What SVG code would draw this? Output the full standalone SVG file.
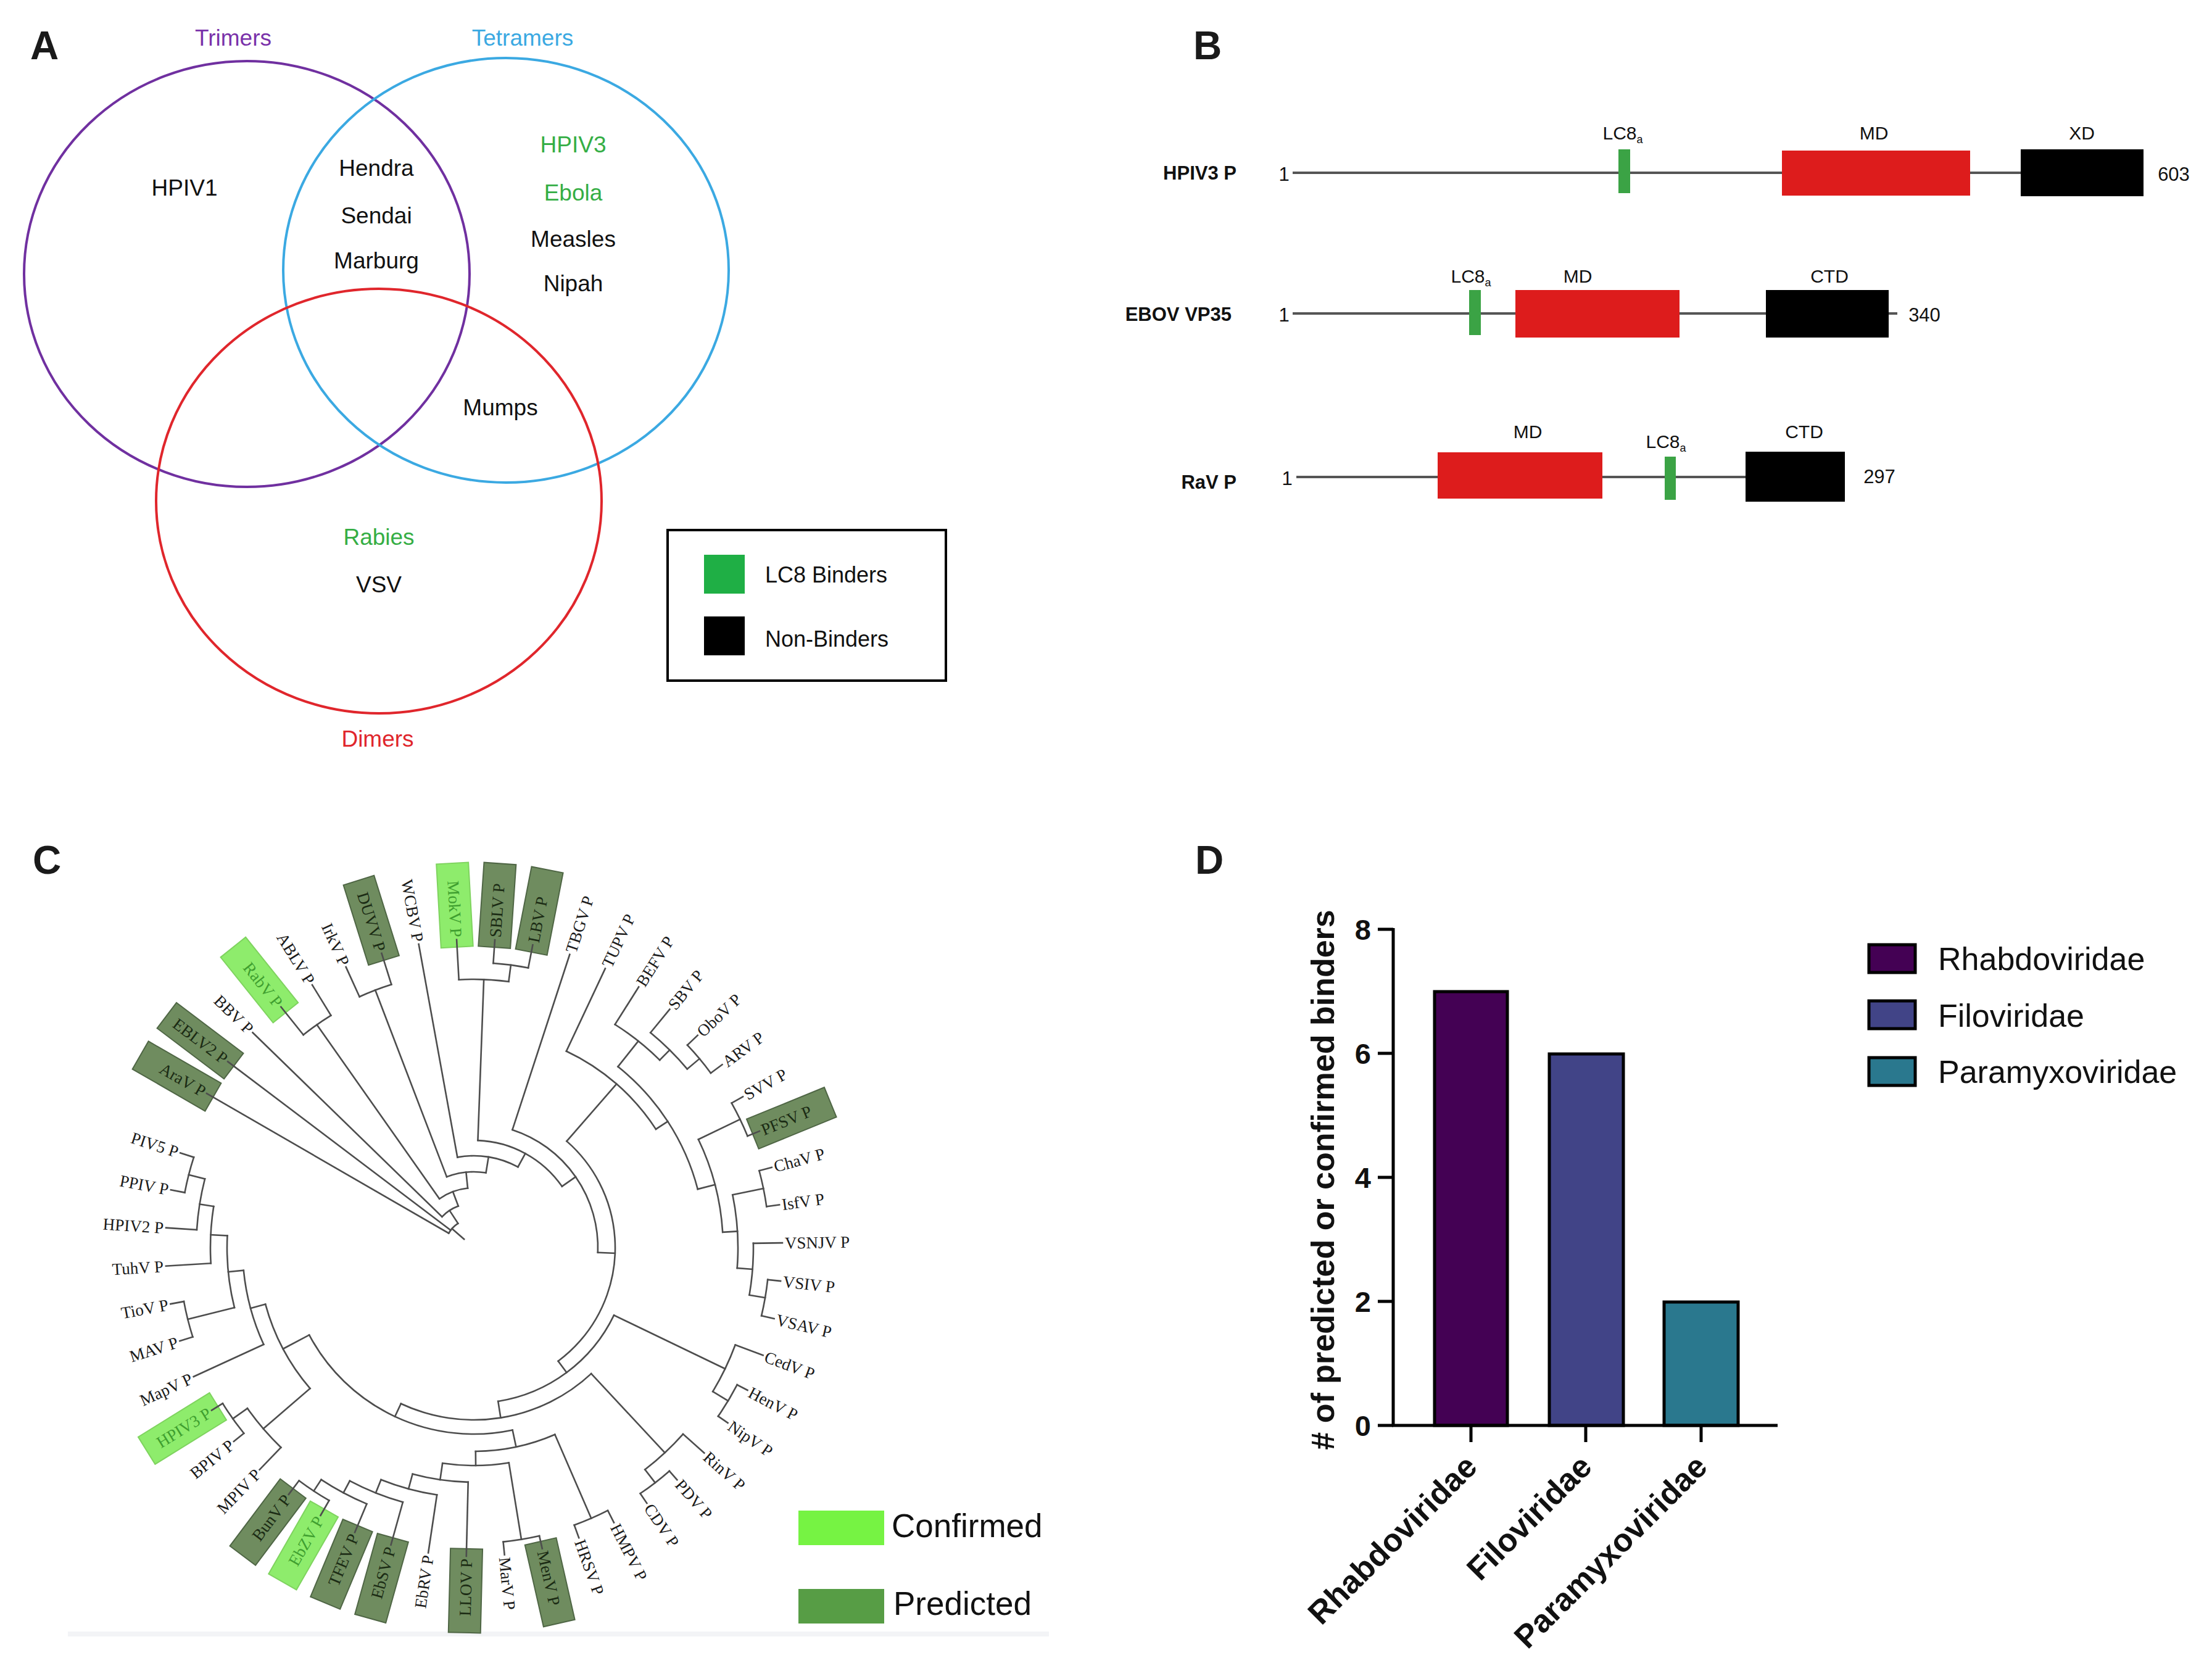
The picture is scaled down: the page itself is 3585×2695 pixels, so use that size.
<svg xmlns="http://www.w3.org/2000/svg" width="3585" height="2695" viewBox="0 0 3585 2695">
<style>
.pl{font-family:"Liberation Sans",Arial,sans-serif;font-weight:bold;font-size:64px;fill:#1a1a1a}
.venn{fill:none;stroke-width:4}
.vt{font-family:"Liberation Sans",Arial,sans-serif;font-size:37px;text-anchor:middle;fill:#111}
.g{fill:#35AE45}
.sans{font-family:"Liberation Sans",Arial,sans-serif;fill:#111}
.bl{font-family:"Liberation Sans",Arial,sans-serif;font-size:31px;fill:#111}
.dom{font-family:"Liberation Sans",Arial,sans-serif;font-size:30px;fill:#111;text-anchor:middle}
.tr line,.tr circle{fill:none;stroke:#4d4d4d;stroke-width:2.6;stroke-linecap:square}
.tl{font-family:"Liberation Serif","Times New Roman",serif;font-size:27px;fill:#1a1a1a}
.pb{fill:#6f8c5f;stroke:#4f6645;stroke-width:2}
.cb{fill:#8eec6c;stroke:#7fd35f;stroke-width:2}
.tp{fill:#1b2b14}
.tc{fill:#3f9f2f}
.ax{stroke:#000;stroke-width:5;fill:none}
.bar{stroke:#000;stroke-width:5}
.db{font-family:"Liberation Sans",Arial,sans-serif;font-weight:bold;font-size:52px;fill:#111}
</style>
<rect width="3585" height="2695" fill="#fff"/>

<!-- Panel labels -->
<text class="pl" x="49" y="96">A</text>
<text class="pl" x="1934" y="96">B</text>
<text class="pl" x="53" y="1416">C</text>
<text class="pl" x="1937" y="1416">D</text>

<!-- Panel A: Venn -->
<g id="venn-trimers">
<ellipse class="venn" cx="400" cy="444" rx="361" ry="345" stroke="#7030A0"/>
<text class="vt" x="378" y="74" fill="#7A32AA" style="fill:#7A32AA">Trimers</text>
</g>
<g id="venn-tetramers">
<ellipse class="venn" cx="820" cy="438" rx="361" ry="344" stroke="#3BA9E2"/>
<text class="vt" x="847" y="74" style="fill:#3BA9E2">Tetramers</text>
</g>
<g id="venn-dimers">
<ellipse class="venn" cx="614" cy="812" rx="361" ry="344" stroke="#E0262C"/>
<text class="vt" x="612" y="1210" style="fill:#E0262C">Dimers</text>
</g>
<g id="venn-members">
<text class="vt" x="299" y="317">HPIV1</text>
<text class="vt" x="610" y="285">Hendra</text>
<text class="vt" x="610" y="362">Sendai</text>
<text class="vt" x="610" y="435">Marburg</text>
<text class="vt g" x="929" y="247" style="fill:#35AE45">HPIV3</text>
<text class="vt g" x="929" y="325" style="fill:#35AE45">Ebola</text>
<text class="vt" x="929" y="400">Measles</text>
<text class="vt" x="929" y="472">Nipah</text>
<text class="vt" x="811" y="673">Mumps</text>
<text class="vt g" x="614" y="883" style="fill:#35AE45">Rabies</text>
<text class="vt" x="614" y="960">VSV</text>
</g>
<g id="venn-legend">
<rect x="1082" y="859" width="451" height="244" fill="none" stroke="#000" stroke-width="4"/>
<rect x="1141" y="899" width="66" height="63" fill="#1FAF45"/>
<rect x="1141" y="999" width="66" height="63" fill="#000"/>
<text class="sans" x="1240" y="944" font-size="36">LC8 Binders</text>
<text class="sans" x="1240" y="1048" font-size="36">Non-Binders</text>
</g>

<!-- Panel B: domain maps -->
<g id="row-hpiv3">
<text class="bl" x="2004" y="291" text-anchor="end" font-weight="bold">HPIV3 P</text>
<text class="bl" x="2081" y="293" text-anchor="middle">1</text>
<line x1="2095" y1="280" x2="3275" y2="280" stroke="#555" stroke-width="4"/>
<rect x="2623" y="242" width="19" height="71" fill="#3BA345"/>
<rect x="2888" y="244" width="305" height="73" fill="#DD1C1C"/>
<rect x="3275" y="242" width="199" height="76" fill="#000"/>
<text class="bl" x="3523" y="293" text-anchor="middle">603</text>
<text class="dom" x="2630" y="226">LC8<tspan font-size="18" dy="6">a</tspan></text>
<text class="dom" x="3037" y="226">MD</text>
<text class="dom" x="3374" y="226">XD</text>
</g>
<g id="row-ebov">
<text class="bl" x="1996" y="520" text-anchor="end" font-weight="bold">EBOV VP35</text>
<text class="bl" x="2081" y="521" text-anchor="middle">1</text>
<line x1="2095" y1="508" x2="3075" y2="508" stroke="#555" stroke-width="4"/>
<rect x="2381" y="470" width="19" height="73" fill="#3BA345"/>
<rect x="2456" y="470" width="266" height="77" fill="#DD1C1C"/>
<rect x="2862" y="470" width="199" height="77" fill="#000"/>
<text class="bl" x="3119" y="521" text-anchor="middle">340</text>
<text class="dom" x="2384" y="458">LC8<tspan font-size="18" dy="6">a</tspan></text>
<text class="dom" x="2557" y="458">MD</text>
<text class="dom" x="2965" y="458">CTD</text>
</g>
<g id="row-rav">
<text class="bl" x="2004" y="792" text-anchor="end" font-weight="bold">RaV P</text>
<text class="bl" x="2086" y="786" text-anchor="middle">1</text>
<line x1="2101" y1="773" x2="2829" y2="773" stroke="#555" stroke-width="4"/>
<rect x="2330" y="733" width="267" height="75" fill="#DD1C1C"/>
<rect x="2698" y="740" width="18" height="70" fill="#3BA345"/>
<rect x="2829" y="732" width="161" height="81" fill="#000"/>
<text class="bl" x="3046" y="783" text-anchor="middle">297</text>
<text class="dom" x="2476" y="710">MD</text>
<text class="dom" x="2700" y="726">LC8<tspan font-size="18" dy="6">a</tspan></text>
<text class="dom" x="2924" y="710">CTD</text>
</g>

<!-- Panel C: circular tree -->
<rect x="110" y="2644" width="1590" height="8" fill="#f3f4f6"/>
<g id="tree" transform="translate(768,2022)">
<g id="tips">
<g id="tip-AraV" transform="rotate(210)"><rect class="pb" x="488" y="-26" width="136" height="52"/><text class="tl tp" transform="translate(504 0) rotate(180)" text-anchor="end" dy="0.35em">AraV P</text></g>
<g id="tip-EBLV2" transform="rotate(217.1)"><rect class="pb" x="488" y="-26" width="136" height="52"/><text class="tl tp" transform="translate(504 0) rotate(180)" text-anchor="end" dy="0.35em">EBLV2 P</text></g>
<g id="tip-BBV" transform="rotate(224.2)"><text class="tl" transform="translate(504 0) rotate(180)" text-anchor="end" dy="0.35em">BBV P</text></g>
<g id="tip-RabV" transform="rotate(231.3)"><rect class="cb" x="488" y="-26" width="136" height="52"/><text class="tl tc" transform="translate(504 0) rotate(180)" text-anchor="end" dy="0.35em">RabV P</text></g>
<g id="tip-ABLV" transform="rotate(238.4)"><text class="tl" transform="translate(504 0) rotate(180)" text-anchor="end" dy="0.35em">ABLV P</text></g>
<g id="tip-IrkV" transform="rotate(245.5)"><text class="tl" transform="translate(504 0) rotate(180)" text-anchor="end" dy="0.35em">IrkV P</text></g>
<g id="tip-DUVV" transform="rotate(252.6)"><rect class="pb" x="488" y="-26" width="136" height="52"/><text class="tl tp" transform="translate(504 0) rotate(180)" text-anchor="end" dy="0.35em">DUVV P</text></g>
<g id="tip-WCBV" transform="rotate(259.7)"><text class="tl" transform="translate(504 0) rotate(180)" text-anchor="end" dy="0.35em">WCBV P</text></g>
<g id="tip-MokV" transform="rotate(266.8)"><rect class="cb" x="488" y="-26" width="136" height="52"/><text class="tl tc" transform="translate(504 0) rotate(180)" text-anchor="end" dy="0.35em">MokV P</text></g>
<g id="tip-SBLV" transform="rotate(273.9)"><rect class="pb" x="488" y="-26" width="136" height="52"/><text class="tl tp" x="504" dy="0.35em">SBLV P</text></g>
<g id="tip-LBV" transform="rotate(281)"><rect class="pb" x="488" y="-26" width="136" height="52"/><text class="tl tp" x="504" dy="0.35em">LBV P</text></g>
<g id="tip-TBGV" transform="rotate(288.1)"><text class="tl" x="504" dy="0.35em">TBGV P</text></g>
<g id="tip-TUPV" transform="rotate(295.2)"><text class="tl" x="504" dy="0.35em">TUPV P</text></g>
<g id="tip-BEFV" transform="rotate(302.3)"><text class="tl" x="504" dy="0.35em">BEFV P</text></g>
<g id="tip-SBV" transform="rotate(309.4)"><text class="tl" x="504" dy="0.35em">SBV P</text></g>
<g id="tip-OboV" transform="rotate(316.5)"><text class="tl" x="504" dy="0.35em">OboV P</text></g>
<g id="tip-ARV" transform="rotate(323.6)"><text class="tl" x="504" dy="0.35em">ARV P</text></g>
<g id="tip-SVV" transform="rotate(330.7)"><text class="tl" x="504" dy="0.35em">SVV P</text></g>
<g id="tip-PFSV" transform="rotate(337.8)"><rect class="pb" x="488" y="-26" width="136" height="52"/><text class="tl tp" x="504" dy="0.35em">PFSV P</text></g>
<g id="tip-ChaV" transform="rotate(344.9)"><text class="tl" x="504" dy="0.35em">ChaV P</text></g>
<g id="tip-IsfV" transform="rotate(352)"><text class="tl" x="504" dy="0.35em">IsfV P</text></g>
<g id="tip-VSNJV" transform="rotate(359.1)"><text class="tl" x="504" dy="0.35em">VSNJV P</text></g>
<g id="tip-VSIV" transform="rotate(6.2)"><text class="tl" x="504" dy="0.35em">VSIV P</text></g>
<g id="tip-VSAV" transform="rotate(13.3)"><text class="tl" x="504" dy="0.35em">VSAV P</text></g>
<g id="tip-CedV" transform="rotate(20.4)"><text class="tl" x="504" dy="0.35em">CedV P</text></g>
<g id="tip-HenV" transform="rotate(27.5)"><text class="tl" x="504" dy="0.35em">HenV P</text></g>
<g id="tip-NipV" transform="rotate(34.6)"><text class="tl" x="504" dy="0.35em">NipV P</text></g>
<g id="tip-RinV" transform="rotate(41.7)"><text class="tl" x="504" dy="0.35em">RinV P</text></g>
<g id="tip-PDV" transform="rotate(48.8)"><text class="tl" x="504" dy="0.35em">PDV P</text></g>
<g id="tip-CDV" transform="rotate(55.9)"><text class="tl" x="504" dy="0.35em">CDV P</text></g>
<g id="tip-HMPV" transform="rotate(63)"><text class="tl" x="504" dy="0.35em">HMPV P</text></g>
<g id="tip-HRSV" transform="rotate(70.1)"><text class="tl" x="504" dy="0.35em">HRSV P</text></g>
<g id="tip-MenV" transform="rotate(77.2)"><rect class="pb" x="488" y="-26" width="136" height="52"/><text class="tl tp" x="504" dy="0.35em">MenV P</text></g>
<g id="tip-MarV" transform="rotate(84.3)"><text class="tl" x="504" dy="0.35em">MarV P</text></g>
<g id="tip-LLOV" transform="rotate(91.4)"><rect class="pb" x="488" y="-26" width="136" height="52"/><text class="tl tp" transform="translate(504 0) rotate(180)" text-anchor="end" dy="0.35em">LLOV P</text></g>
<g id="tip-EbRV" transform="rotate(98.5)"><text class="tl" transform="translate(504 0) rotate(180)" text-anchor="end" dy="0.35em">EbRV P</text></g>
<g id="tip-EbSV" transform="rotate(105.6)"><rect class="pb" x="488" y="-26" width="136" height="52"/><text class="tl tp" transform="translate(504 0) rotate(180)" text-anchor="end" dy="0.35em">EbSV P</text></g>
<g id="tip-TFEV" transform="rotate(112.7)"><rect class="pb" x="488" y="-26" width="136" height="52"/><text class="tl tp" transform="translate(504 0) rotate(180)" text-anchor="end" dy="0.35em">TFEV P</text></g>
<g id="tip-EbZV" transform="rotate(119.8)"><rect class="cb" x="488" y="-26" width="136" height="52"/><text class="tl tc" transform="translate(504 0) rotate(180)" text-anchor="end" dy="0.35em">EbZV P</text></g>
<g id="tip-BunV" transform="rotate(126.9)"><rect class="pb" x="488" y="-26" width="136" height="52"/><text class="tl tp" transform="translate(504 0) rotate(180)" text-anchor="end" dy="0.35em">BunV P</text></g>
<g id="tip-MPIV" transform="rotate(134)"><text class="tl" transform="translate(504 0) rotate(180)" text-anchor="end" dy="0.35em">MPIV P</text></g>
<g id="tip-BPIV" transform="rotate(141.1)"><text class="tl" transform="translate(504 0) rotate(180)" text-anchor="end" dy="0.35em">BPIV P</text></g>
<g id="tip-HPIV3" transform="rotate(148.2)"><rect class="cb" x="488" y="-26" width="136" height="52"/><text class="tl tc" transform="translate(504 0) rotate(180)" text-anchor="end" dy="0.35em">HPIV3 P</text></g>
<g id="tip-MapV" transform="rotate(155.3)"><text class="tl" transform="translate(504 0) rotate(180)" text-anchor="end" dy="0.35em">MapV P</text></g>
<g id="tip-MAV" transform="rotate(162.4)"><text class="tl" transform="translate(504 0) rotate(180)" text-anchor="end" dy="0.35em">MAV P</text></g>
<g id="tip-TioV" transform="rotate(169.5)"><text class="tl" transform="translate(504 0) rotate(180)" text-anchor="end" dy="0.35em">TioV P</text></g>
<g id="tip-TuhV" transform="rotate(176.6)"><text class="tl" transform="translate(504 0) rotate(180)" text-anchor="end" dy="0.35em">TuhV P</text></g>
<g id="tip-HPIV2" transform="rotate(183.7)"><text class="tl" transform="translate(504 0) rotate(180)" text-anchor="end" dy="0.35em">HPIV2 P</text></g>
<g id="tip-PPIV" transform="rotate(190.8)"><text class="tl" transform="translate(504 0) rotate(180)" text-anchor="end" dy="0.35em">PPIV P</text></g>
<g id="tip-PIV5" transform="rotate(197.9)"><text class="tl" transform="translate(504 0) rotate(180)" text-anchor="end" dy="0.35em">PIV5 P</text></g>
</g>
<g id="connectors" class="tr">
<line x1="21" x2="47" transform="rotate(221)"/>
<circle r="47" pathLength="360" stroke-dasharray="26.84 400" transform="rotate(210)"/>
<line x1="47" x2="500" transform="rotate(210)"/>
<line x1="47" x2="500" transform="rotate(217.1)"/>
<line x1="47" x2="72" transform="rotate(236.84)"/>
<circle r="72" pathLength="360" stroke-dasharray="25.28 400" transform="rotate(224.2)"/>
<line x1="72" x2="500" transform="rotate(224.2)"/>
<line x1="72" x2="97" transform="rotate(249.48)"/>
<circle r="97" pathLength="360" stroke-dasharray="29.26 400" transform="rotate(234.85)"/>
<line x1="97" x2="442" transform="rotate(234.85)"/>
<circle r="442" pathLength="360" stroke-dasharray="7.1 400" transform="rotate(231.3)"/>
<line x1="442" x2="500" transform="rotate(231.3)"/>
<line x1="442" x2="500" transform="rotate(238.4)"/>
<line x1="97" x2="123" transform="rotate(264.11)"/>
<circle r="123" pathLength="360" stroke-dasharray="30.12 400" transform="rotate(249.05)"/>
<line x1="123" x2="447" transform="rotate(249.05)"/>
<circle r="447" pathLength="360" stroke-dasharray="7.1 400" transform="rotate(245.5)"/>
<line x1="447" x2="500" transform="rotate(245.5)"/>
<line x1="447" x2="500" transform="rotate(252.6)"/>
<line x1="123" x2="149" transform="rotate(279.17)"/>
<circle r="149" pathLength="360" stroke-dasharray="38.94 400" transform="rotate(259.7)"/>
<line x1="149" x2="500" transform="rotate(259.7)"/>
<line x1="149" x2="174" transform="rotate(298.64)"/>
<circle r="174" pathLength="360" stroke-dasharray="53.035 400" transform="rotate(272.125)"/>
<line x1="174" x2="435" transform="rotate(272.125)"/>
<circle r="435" pathLength="360" stroke-dasharray="10.65 400" transform="rotate(266.8)"/>
<line x1="435" x2="500" transform="rotate(266.8)"/>
<line x1="435" x2="462" transform="rotate(277.45)"/>
<circle r="462" pathLength="360" stroke-dasharray="7.1 400" transform="rotate(273.9)"/>
<line x1="462" x2="500" transform="rotate(273.9)"/>
<line x1="462" x2="500" transform="rotate(281)"/>
<line x1="174" x2="201" transform="rotate(325.16)"/>
<circle r="201" pathLength="360" stroke-dasharray="74.125 400" transform="rotate(288.1)"/>
<line x1="201" x2="500" transform="rotate(288.1)"/>
<line x1="201" x2="229" transform="rotate(2.225)"/>
<circle r="229" pathLength="360" stroke-dasharray="102.31 400" transform="rotate(311.07)"/>
<line x1="229" x2="352" transform="rotate(311.07)"/>
<circle r="352" pathLength="360" stroke-dasharray="31.73 400" transform="rotate(295.2)"/>
<line x1="352" x2="500" transform="rotate(295.2)"/>
<line x1="352" x2="375" transform="rotate(326.93)"/>
<circle r="375" pathLength="360" stroke-dasharray="36.835 400" transform="rotate(308.51)"/>
<line x1="375" x2="428" transform="rotate(308.51)"/>
<circle r="428" pathLength="360" stroke-dasharray="12.425 400" transform="rotate(302.3)"/>
<line x1="428" x2="500" transform="rotate(302.3)"/>
<line x1="428" x2="451" transform="rotate(314.725)"/>
<circle r="451" pathLength="360" stroke-dasharray="10.65 400" transform="rotate(309.4)"/>
<line x1="451" x2="500" transform="rotate(309.4)"/>
<line x1="451" x2="477" transform="rotate(320.05)"/>
<circle r="477" pathLength="360" stroke-dasharray="7.1 400" transform="rotate(316.5)"/>
<line x1="477" x2="500" transform="rotate(316.5)"/>
<line x1="477" x2="500" transform="rotate(323.6)"/>
<line x1="375" x2="404" transform="rotate(345.345)"/>
<circle r="404" pathLength="360" stroke-dasharray="22.19 400" transform="rotate(334.25)"/>
<line x1="404" x2="479" transform="rotate(334.25)"/>
<circle r="479" pathLength="360" stroke-dasharray="7.1 400" transform="rotate(330.7)"/>
<line x1="479" x2="500" transform="rotate(330.7)"/>
<line x1="479" x2="500" transform="rotate(337.8)"/>
<line x1="404" x2="428" transform="rotate(356.44)"/>
<circle r="428" pathLength="360" stroke-dasharray="15.975 400" transform="rotate(348.45)"/>
<line x1="428" x2="479" transform="rotate(348.45)"/>
<circle r="479" pathLength="360" stroke-dasharray="7.1 400" transform="rotate(344.9)"/>
<line x1="479" x2="500" transform="rotate(344.9)"/>
<line x1="479" x2="500" transform="rotate(352)"/>
<line x1="428" x2="453" transform="rotate(4.425)"/>
<circle r="453" pathLength="360" stroke-dasharray="10.65 400" transform="rotate(359.1)"/>
<line x1="453" x2="500" transform="rotate(359.1)"/>
<line x1="453" x2="479" transform="rotate(9.75)"/>
<circle r="479" pathLength="360" stroke-dasharray="7.1 400" transform="rotate(6.2)"/>
<line x1="479" x2="500" transform="rotate(6.2)"/>
<line x1="479" x2="500" transform="rotate(13.3)"/>
<line x1="229" x2="252" transform="rotate(53.38)"/>
<circle r="252" pathLength="360" stroke-dasharray="55.315 400" transform="rotate(25.725)"/>
<line x1="252" x2="452" transform="rotate(25.725)"/>
<circle r="452" pathLength="360" stroke-dasharray="10.65 400" transform="rotate(20.4)"/>
<line x1="452" x2="500" transform="rotate(20.4)"/>
<line x1="452" x2="481" transform="rotate(31.05)"/>
<circle r="481" pathLength="360" stroke-dasharray="7.1 400" transform="rotate(27.5)"/>
<line x1="481" x2="500" transform="rotate(27.5)"/>
<line x1="481" x2="500" transform="rotate(34.6)"/>
<line x1="252" x2="279" transform="rotate(81.04)"/>
<circle r="279" pathLength="360" stroke-dasharray="68.035 400" transform="rotate(47.025)"/>
<line x1="279" x2="454" transform="rotate(47.025)"/>
<circle r="454" pathLength="360" stroke-dasharray="10.65 400" transform="rotate(41.7)"/>
<line x1="454" x2="500" transform="rotate(41.7)"/>
<line x1="454" x2="481" transform="rotate(52.35)"/>
<circle r="481" pathLength="360" stroke-dasharray="7.1 400" transform="rotate(48.8)"/>
<line x1="481" x2="500" transform="rotate(48.8)"/>
<line x1="481" x2="500" transform="rotate(55.9)"/>
<line x1="279" x2="302" transform="rotate(115.06)"/>
<circle r="302" pathLength="360" stroke-dasharray="74.05 400" transform="rotate(78.03)"/>
<line x1="302" x2="330" transform="rotate(78.03)"/>
<circle r="330" pathLength="360" stroke-dasharray="22.96 400" transform="rotate(66.55)"/>
<line x1="330" x2="478" transform="rotate(66.55)"/>
<circle r="478" pathLength="360" stroke-dasharray="7.1 400" transform="rotate(63)"/>
<line x1="478" x2="500" transform="rotate(63)"/>
<line x1="478" x2="500" transform="rotate(70.1)"/>
<line x1="330" x2="353" transform="rotate(89.51)"/>
<circle r="353" pathLength="360" stroke-dasharray="17.53 400" transform="rotate(80.75)"/>
<line x1="353" x2="479" transform="rotate(80.75)"/>
<circle r="479" pathLength="360" stroke-dasharray="7.1 400" transform="rotate(77.2)"/>
<line x1="479" x2="500" transform="rotate(77.2)"/>
<line x1="479" x2="500" transform="rotate(84.3)"/>
<line x1="353" x2="380" transform="rotate(98.28)"/>
<circle r="380" pathLength="360" stroke-dasharray="13.76 400" transform="rotate(91.4)"/>
<line x1="380" x2="500" transform="rotate(91.4)"/>
<line x1="380" x2="405" transform="rotate(105.16)"/>
<circle r="405" pathLength="360" stroke-dasharray="13.31 400" transform="rotate(98.5)"/>
<line x1="405" x2="500" transform="rotate(98.5)"/>
<line x1="405" x2="428" transform="rotate(111.81)"/>
<circle r="428" pathLength="360" stroke-dasharray="12.425 400" transform="rotate(105.6)"/>
<line x1="428" x2="500" transform="rotate(105.6)"/>
<line x1="428" x2="450" transform="rotate(118.025)"/>
<circle r="450" pathLength="360" stroke-dasharray="10.65 400" transform="rotate(112.7)"/>
<line x1="450" x2="500" transform="rotate(112.7)"/>
<line x1="450" x2="472" transform="rotate(123.35)"/>
<circle r="472" pathLength="360" stroke-dasharray="7.1 400" transform="rotate(119.8)"/>
<line x1="472" x2="500" transform="rotate(119.8)"/>
<line x1="472" x2="500" transform="rotate(126.9)"/>
<line x1="302" x2="350" transform="rotate(152.08)"/>
<circle r="350" pathLength="360" stroke-dasharray="25.515 400" transform="rotate(139.325)"/>
<line x1="350" x2="450" transform="rotate(139.325)"/>
<circle r="450" pathLength="360" stroke-dasharray="10.65 400" transform="rotate(134)"/>
<line x1="450" x2="500" transform="rotate(134)"/>
<line x1="450" x2="479" transform="rotate(144.65)"/>
<circle r="479" pathLength="360" stroke-dasharray="7.1 400" transform="rotate(141.1)"/>
<line x1="479" x2="500" transform="rotate(141.1)"/>
<line x1="479" x2="500" transform="rotate(148.2)"/>
<line x1="350" x2="375" transform="rotate(164.84)"/>
<circle r="375" pathLength="360" stroke-dasharray="19.08 400" transform="rotate(155.3)"/>
<line x1="375" x2="500" transform="rotate(155.3)"/>
<line x1="375" x2="400" transform="rotate(174.38)"/>
<circle r="400" pathLength="360" stroke-dasharray="16.86 400" transform="rotate(165.95)"/>
<line x1="400" x2="478" transform="rotate(165.95)"/>
<circle r="478" pathLength="360" stroke-dasharray="7.1 400" transform="rotate(162.4)"/>
<line x1="478" x2="500" transform="rotate(162.4)"/>
<line x1="478" x2="500" transform="rotate(169.5)"/>
<line x1="400" x2="427" transform="rotate(182.81)"/>
<circle r="427" pathLength="360" stroke-dasharray="12.425 400" transform="rotate(176.6)"/>
<line x1="427" x2="500" transform="rotate(176.6)"/>
<line x1="427" x2="450" transform="rotate(189.025)"/>
<circle r="450" pathLength="360" stroke-dasharray="10.65 400" transform="rotate(183.7)"/>
<line x1="450" x2="500" transform="rotate(183.7)"/>
<line x1="450" x2="477" transform="rotate(194.35)"/>
<circle r="477" pathLength="360" stroke-dasharray="7.1 400" transform="rotate(190.8)"/>
<line x1="477" x2="500" transform="rotate(190.8)"/>
<line x1="477" x2="500" transform="rotate(197.9)"/>
</g>
</g>
<g id="tree-legend">
<rect x="1294" y="2448" width="139" height="56" fill="#76F343"/>
<rect x="1294" y="2575" width="139" height="56" fill="#579D45"/>
<text class="sans" x="1445" y="2491" font-size="53">Confirmed</text>
<text class="sans" x="1448" y="2617" font-size="53">Predicted</text>
</g>

<!-- Panel D: bar chart -->
<g id="bar-chart">
<rect id="bar-rhabdo" class="bar" x="2325" y="1607" width="118" height="703" fill="#440154"/>
<rect id="bar-filo" class="bar" x="2511" y="1708" width="120" height="602" fill="#414487"/>
<rect id="bar-para" class="bar" x="2697" y="2110" width="120" height="200" fill="#2A788E"/>
<g id="axes" class="ax">
<line x1="2258" y1="1504" x2="2258" y2="2312"/>
<line x1="2256" y1="2310" x2="2881" y2="2310"/>
<line x1="2233" y1="1506" x2="2258" y2="1506"/>
<line x1="2233" y1="1707" x2="2258" y2="1707"/>
<line x1="2233" y1="1908" x2="2258" y2="1908"/>
<line x1="2233" y1="2109" x2="2258" y2="2109"/>
<line x1="2233" y1="2310" x2="2258" y2="2310"/>
<line x1="2384" y1="2310" x2="2384" y2="2337"/>
<line x1="2570" y1="2310" x2="2570" y2="2337"/>
<line x1="2757" y1="2310" x2="2757" y2="2337"/>
</g>
<g id="y-ticks" class="db" font-size="47" text-anchor="end">
<text x="2222" y="1523" font-size="47">8</text>
<text x="2222" y="1724" font-size="47">6</text>
<text x="2222" y="1925" font-size="47">4</text>
<text x="2222" y="2126" font-size="47">2</text>
<text x="2222" y="2327" font-size="47">0</text>
</g>
<text class="db" transform="translate(2162 1912) rotate(-90)" text-anchor="middle">#  of predicted or confirmed binders</text>
<text class="db" transform="translate(2397 2380) rotate(-45)" text-anchor="end">Rhabdoviridae</text>
<text class="db" transform="translate(2583 2380) rotate(-45)" text-anchor="end">Filoviridae</text>
<text class="db" transform="translate(2770 2380) rotate(-45)" text-anchor="end">Paramyxoviridae</text>
</g>
<g id="bar-legend">
<rect x="3029" y="1531" width="75" height="45" fill="#440154" stroke="#000" stroke-width="5"/>
<rect x="3029" y="1622" width="75" height="45" fill="#414487" stroke="#000" stroke-width="5"/>
<rect x="3029" y="1714" width="75" height="45" fill="#2A788E" stroke="#000" stroke-width="5"/>
<text class="sans" x="3141" y="1572" font-size="52">Rhabdoviridae</text>
<text class="sans" x="3141" y="1664" font-size="52">Filoviridae</text>
<text class="sans" x="3141" y="1755" font-size="52">Paramyxoviridae</text>
</g>
</svg>
